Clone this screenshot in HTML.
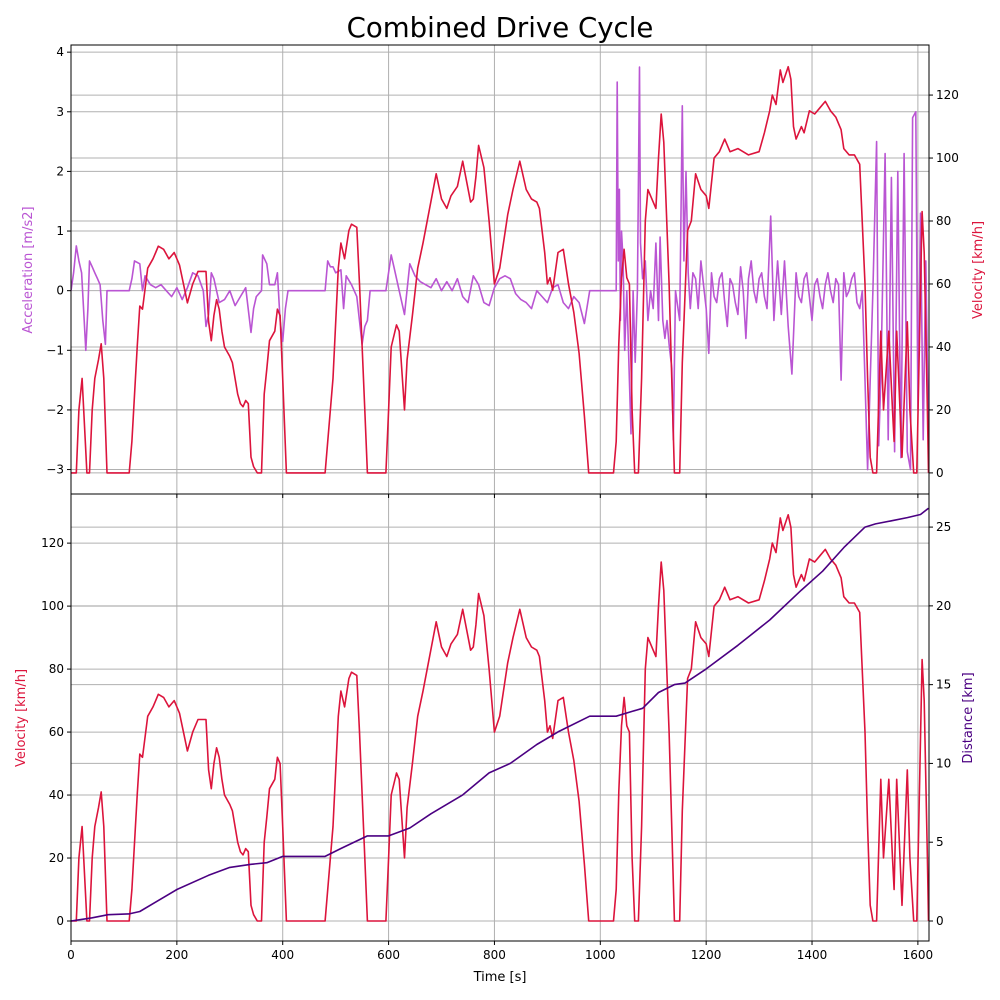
<!DOCTYPE html>
<html><head><meta charset="utf-8"><style>
body{margin:0;background:#fff}
svg{display:block;font-family:"DejaVu Sans","Liberation Sans",sans-serif}
</style></head><body>
<svg id="chart" width="1000" height="1000" xmlns="http://www.w3.org/2000/svg">
<text x="500" y="37" font-size="27.6" text-anchor="middle">Combined Drive Cycle</text>
</svg>
<script>
const xTicks=[0,200,400,600,800,1000,1200,1400,1600];
const accTicks=[-3,-2,-1,0,1,2,3,4];
const velTicks=[0,20,40,60,80,100,120];
const distTicks=[0,5,10,15,20,25];
const velocity=[[0,0],[10,0],[15,20],[21,30],[27,10],[30,0],[35,0],[40,20],[45,30],[52,36],[57,41],[62,30],[68,0],[110,0],[115,10],[125,40],[130,53],[135,52],[145,65],[155,68],[160,70],[165,72],[175,71],[185,68],[195,70],[205,66],[215,58],[220,54],[230,60],[240,64],[255,64],[260,48],[265,42],[270,50],[275,55],[280,52],[285,45],[290,40],[300,37],[305,35],[315,25],[320,22],[325,21],[330,23],[335,22],[340,5],[345,2],[352,0],[360,0],[365,25],[370,33],[375,42],[385,45],[390,52],[395,50],[400,30],[407,0],[480,0],[495,30],[505,65],[510,73],[517,68],[525,77],[530,79],[540,78],[545,60],[555,20],[560,0],[595,0],[600,20],[605,40],[615,47],[620,45],[630,20],[635,36],[645,50],[655,65],[665,73],[690,95],[700,87],[710,84],[718,88],[730,91],[740,99],[755,86],[760,87],[765,94],[770,104],[780,97],[790,80],[800,60],[810,65],[825,82],[835,90],[848,99],[860,90],[870,87],[880,86],[885,84],[895,70],[900,60],[905,62],[910,58],[920,70],[930,71],[940,60],[950,51],[960,38],[970,18],[978,0],[1025,0],[1030,10],[1035,41],[1040,62],[1045,71],[1050,62],[1055,60],[1060,20],[1065,0],[1072,0],[1078,30],[1085,80],[1090,90],[1100,86],[1105,84],[1110,100],[1115,114],[1120,105],[1130,60],[1140,0],[1150,0],[1155,35],[1165,77],[1172,80],[1180,95],[1190,90],[1200,88],[1205,84],[1215,100],[1225,102],[1235,106],[1245,102],[1260,103],[1280,101],[1300,102],[1310,108],[1320,115],[1325,120],[1332,117],[1340,128],[1345,124],[1355,129],[1360,125],[1365,110],[1370,106],[1380,110],[1385,108],[1395,115],[1405,114],[1415,116],[1425,118],[1435,115],[1445,113],[1455,109],[1460,103],[1470,101],[1480,101],[1490,98],[1500,60],[1505,30],[1510,5],[1515,0],[1522,0],[1530,45],[1535,20],[1545,45],[1552,20],[1555,10],[1560,45],[1570,5],[1580,48],[1585,20],[1592,0],[1598,0],[1608,83],[1612,70],[1618,20],[1620,0]];
const distance=[[0,0],[20,0.1],[40,0.2],[70,0.4],[110,0.45],[130,0.6],[160,1.2],[200,2.0],[260,2.9],[300,3.4],[340,3.6],[370,3.7],[400,4.1],[480,4.1],[510,4.6],[560,5.4],[600,5.4],[640,5.9],[680,6.8],[740,8.0],[790,9.4],[830,10.0],[880,11.2],[920,12.0],[980,13.0],[1030,13.0],[1060,13.3],[1080,13.5],[1110,14.5],[1140,15.0],[1160,15.1],[1200,16.0],[1260,17.5],[1320,19.1],[1380,21.0],[1420,22.2],[1460,23.7],[1500,25.0],[1520,25.2],[1550,25.4],[1580,25.6],[1605,25.8],[1620,26.2]];
const acceleration=[[0,0],[5,0.3],[10,0.75],[15,0.5],[20,0.3],[25,-0.5],[28,-1.0],[32,-0.3],[35,0.5],[40,0.4],[45,0.3],[50,0.2],[55,0.1],[60,-0.5],[65,-0.9],[68,0],[110,0],[115,0.2],[120,0.5],[130,0.45],[135,0],[140,0.25],[150,0.1],[160,0.05],[170,0.1],[180,0],[190,-0.1],[200,0.05],[210,-0.15],[220,0.05],[230,0.3],[240,0.25],[250,0],[255,-0.6],[260,-0.4],[265,0.3],[270,0.2],[280,-0.2],[290,-0.15],[300,0],[310,-0.25],[320,-0.1],[330,0.05],[340,-0.7],[345,-0.3],[350,-0.1],[360,0],[362,0.6],[370,0.45],[375,0.1],[385,0.1],[390,0.3],[395,-0.5],[400,-0.85],[405,-0.3],[410,0],[480,0],[485,0.5],[490,0.4],[495,0.4],[500,0.3],[510,0.35],[515,-0.3],[520,0.25],[530,0.1],[540,-0.1],[550,-0.9],[555,-0.6],[560,-0.5],[565,0],[595,0],[605,0.6],[610,0.4],[620,0],[630,-0.4],[640,0.45],[650,0.25],[660,0.15],[670,0.1],[680,0.05],[690,0.2],[700,0],[710,0.15],[720,0],[730,0.2],[740,-0.1],[750,-0.2],[760,0.25],[770,0.1],[780,-0.2],[790,-0.25],[800,0.05],[810,0.2],[820,0.25],[830,0.2],[840,-0.05],[850,-0.15],[860,-0.2],[870,-0.3],[880,0],[890,-0.1],[900,-0.2],[910,0.05],[920,0.1],[930,-0.2],[940,-0.3],[950,-0.1],[960,-0.2],[970,-0.55],[980,0],[1030,0],[1032,3.5],[1034,0.5],[1036,1.7],[1038,-0.5],[1040,1.0],[1043,0.5],[1046,-1],[1050,0],[1055,-1.5],[1058,-2.4],[1062,0],[1066,-1.2],[1070,0],[1074,3.75],[1076,0.8],[1080,0.2],[1085,0.5],[1090,-0.5],[1095,0],[1100,-0.3],[1105,0.8],[1110,-0.5],[1113,0.9],[1118,-0.5],[1122,-0.8],[1126,-0.5],[1130,-0.9],[1135,-1.3],[1138,-2.5],[1142,0],[1150,-0.5],[1155,3.1],[1158,0.5],[1162,2.0],[1166,0.3],[1170,-0.3],[1175,0.3],[1180,0.2],[1185,-0.3],[1190,0.5],[1195,0.1],[1200,-0.3],[1205,-1.05],[1210,0.3],[1215,-0.1],[1220,-0.2],[1225,0.2],[1230,0.3],[1235,-0.2],[1240,-0.6],[1245,0.2],[1250,0.1],[1255,-0.2],[1260,-0.4],[1265,0.4],[1270,0],[1275,-0.8],[1280,0.2],[1285,0.5],[1290,0],[1295,-0.2],[1300,0.2],[1305,0.3],[1310,-0.1],[1315,-0.3],[1322,1.25],[1328,-0.5],[1335,0.5],[1342,-0.4],[1348,0.5],[1355,-0.6],[1362,-1.4],[1370,0.3],[1375,-0.1],[1380,-0.2],[1385,0.2],[1390,0.3],[1395,-0.1],[1400,-0.5],[1405,0.1],[1410,0.2],[1415,-0.1],[1420,-0.3],[1425,0.1],[1430,0.3],[1435,0],[1440,-0.2],[1445,0.2],[1450,0.1],[1455,-1.5],[1460,0.3],[1465,-0.1],[1470,0],[1475,0.2],[1480,0.3],[1485,-0.2],[1490,-0.3],[1495,0],[1500,-1.5],[1505,-3.0],[1510,-1.5],[1515,0],[1522,2.5],[1526,-2.6],[1530,-1.5],[1538,2.3],[1544,-2.5],[1550,1.9],[1556,-2.7],[1562,2.0],[1568,-2.8],[1574,2.3],[1580,-2.7],[1586,-3.0],[1590,2.9],[1596,3.0],[1600,-2.0],[1605,1.3],[1610,-2.5],[1615,0.5],[1620,-2.5]];

const NS='http://www.w3.org/2000/svg';
const svg=document.getElementById('chart');
const L=71,R=929,T1=45,B1=494,T2=494,B2=941;
const X=t=>L+(t/1621)*(R-L);
const lin=(d0,d1,p0,p1)=>v=>p0+(v-d0)/(d1-d0)*(p1-p0);
const yAcc=lin(-3.41,4.12,B1,T1);
const yVelTop=lin(-6.7,135.9,B1,T1);
const yVelBot=lin(-6.35,135.6,B2,T2);
const yDist=lin(-1.27,27.1,B2,T2);
function mk(tag,attrs,parent){const e=document.createElementNS(NS,tag);for(const k in attrs)e.setAttribute(k,attrs[k]);(parent||svg).appendChild(e);return e;}
function txt(x,y,s,anchor,size,fill,rot){const e=mk('text',{x:x,y:y,'font-size':size||12,'text-anchor':anchor||'middle',fill:fill||'#000'});if(rot)e.setAttribute('transform','rotate(-90 '+x+' '+y+')');e.textContent=s;return e;}
const grid=mk('g',{stroke:'#b0b0b0','stroke-width':1});


xTicks.forEach(t=>{[[T1,B1],[T2,B2]].forEach(([a,b])=>mk('line',{x1:X(t),x2:X(t),y1:a,y2:b},grid));});
accTicks.forEach(v=>mk('line',{x1:L,x2:R,y1:yAcc(v),y2:yAcc(v)},grid));
velTicks.forEach(v=>{mk('line',{x1:L,x2:R,y1:yVelTop(v),y2:yVelTop(v)},grid);mk('line',{x1:L,x2:R,y1:yVelBot(v),y2:yVelBot(v)},grid);});
distTicks.forEach(v=>mk('line',{x1:L,x2:R,y1:yDist(v),y2:yDist(v)},grid));
const defs=mk('defs',{});
const c1=mk('clipPath',{id:'c1'},defs);mk('rect',{x:L,y:T1,width:R-L,height:B1-T1},c1);
const c2=mk('clipPath',{id:'c2'},defs);mk('rect',{x:L,y:T2,width:R-L,height:B2-T2},c2);
function line(data,yf,color,clip,name){const d=data.map((p,i)=>(i?'L':'M')+X(p[0]).toFixed(1)+' '+yf(p[1]).toFixed(1)).join('');const e=mk('path',{d:d,fill:'none',stroke:color,'stroke-width':1.6,'stroke-linejoin':'round','clip-path':'url(#'+clip+')'});return e;}
line(acceleration,yAcc,'#ba55d3','c1','acceleration-line');
line(velocity,yVelTop,'#dc143c','c1','velocity-line-top');
line(velocity,yVelBot,'#dc143c','c2','velocity-line-bottom');
line(distance,yDist,'#4b0082','c2','distance-line');
[[T1,B1],[T2,B2]].forEach(([a,b],i)=>{const f=mk('rect',{x:L,y:a,width:R-L,height:b-a,fill:'none',stroke:'#000','stroke-width':1});});
const tk=mk('g',{stroke:'#000','stroke-width':1});
xTicks.forEach(t=>{mk('line',{x1:X(t),x2:X(t),y1:B1,y2:B1+4},tk);mk('line',{x1:X(t),x2:X(t),y1:B2,y2:B2+4},tk);txt(X(t),B2+18,String(t));});
accTicks.forEach(v=>{mk('line',{x1:L-4,x2:L,y1:yAcc(v),y2:yAcc(v)},tk);txt(L-7,yAcc(v)+4,String(v).replace('-','\u2212'),'end');});
velTicks.forEach(v=>{mk('line',{x1:R,x2:R+4,y1:yVelTop(v),y2:yVelTop(v)},tk);txt(R+7,yVelTop(v)+4,String(v),'start');mk('line',{x1:L-4,x2:L,y1:yVelBot(v),y2:yVelBot(v)},tk);txt(L-7,yVelBot(v)+4,String(v),'end');});
distTicks.forEach(v=>{mk('line',{x1:R,x2:R+4,y1:yDist(v),y2:yDist(v)},tk);txt(R+7,yDist(v)+4,String(v),'start');});
let e;
e=txt(500,981,'Time [s]','middle',13);
e=txt(32,270,'Acceleration [m/s2]','middle',13,'#ba55d3',true);
e=txt(982,270,'Velocity [km/h]','middle',13,'#dc143c',true);
e=txt(25,718,'Velocity [km/h]','middle',13,'#dc143c',true);
e=txt(972,718,'Distance [km]','middle',13,'#4b0082',true);
</script>
</body></html>
